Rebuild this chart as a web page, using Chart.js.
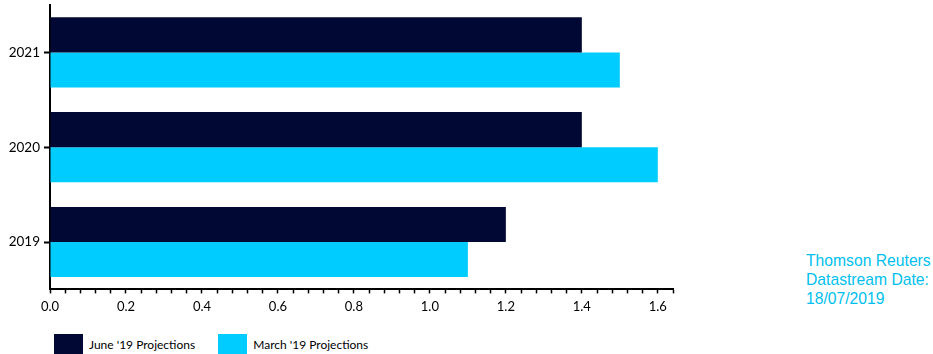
<!DOCTYPE html>
<html>
<head>
<meta charset="utf-8">
<script src="https://cdn.jsdelivr.net/npm/chart.js@4"></script>
<style>
    body { margin: 0; background: #fff; width: 933px; height: 354px; overflow: hidden; position: relative; }
    #chart-box { position: absolute; left: 0; top: 0; width: 680px; height: 321px; }
    #legend { position: absolute; left: 54px; top: 334px; display: flex; font: 12px Lato, sans-serif; color: #000; }
    .legend-item { display: flex; align-items: center; margin-right: 23px; }
    .legend-swatch { width: 29px; height: 20px; margin-right: 6px; }
    #source { position: absolute; left: 806px; top: 251px; white-space: nowrap; font: 15.7px "Liberation Sans", Arial, sans-serif; line-height: 19px; color: #00bff0; }
</style>
</head>
<body>
<div id="chart-box"><canvas id="myChart"></canvas></div>
<div id="legend"></div>
<div id="source">Thomson Reuters<br>Datastream Date:<br>18/07/2019</div>
<script>
'use strict';

const years = ['2021', '2020', '2019'];
const juneProjections = [1.4, 1.4, 1.2];
const marchProjections = [1.5, 1.6, 1.1];
const xTickLabels = ['0.0', '0.2', '0.4', '0.6', '0.8', '1.0', '1.2', '1.4', '1.6'];
const xMax = 1.64;
const minorStep = 0.04;

const navy = '#000833';
const cyan = '#00ccff';

const canvasEl = document.getElementById('myChart');

const chartObj = new Chart(canvasEl, {
    type: 'bar',
    data: {
        labels: years,
        datasets: [{
            label: "June '19 Projections",
            data: juneProjections,
            backgroundColor: navy
        }, {
            label: "March '19 Projections",
            data: marchProjections,
            backgroundColor: cyan
        }]
    },
    options: {
        indexAxis: 'y',
        responsive: true,
        maintainAspectRatio: false,
        animation: false,
        layout: { padding: { top: 5, right: 7, left: 0, bottom: 0 } },
        datasets: {
            bar: { barPercentage: 1, categoryPercentage: 0.74 }
        },
        plugins: {
            legend: { display: false },
            tooltip: { enabled: false }
        },
        scales: {
            x: {
                min: 0,
                max: xMax,
                afterBuildTicks: scale => {
                    // minor ticks every 0.04, labelled every 0.2
                    const count = Math.round(xMax / minorStep);
                    scale.ticks = [];
                    for (let i = 0; i <= count; i++) {
                        scale.ticks.push({ value: Math.round(i * minorStep * 100) / 100 });
                    }
                },
                border: { color: '#000', width: 2 },
                grid: { drawOnChartArea: false, tickLength: 4, tickColor: '#000', tickWidth: 1.5 },
                ticks: {
                    autoSkip: false,
                    maxRotation: 0,
                    padding: 6,
                    color: '#000',
                    font: { family: 'Lato', size: 13 },
                    callback: function (value) {
                        const idx = Math.round(value * 100) / 20;
                        return Number.isInteger(idx) && xTickLabels[idx] ? xTickLabels[idx] : '';
                    }
                }
            },
            y: {
                afterFit: scale => {
                    scale.width = 50;
                    scale.paddingTop = 0;
                    scale.paddingBottom = 0;
                },
                border: { color: '#000', width: 2 },
                grid: { offset: false, drawOnChartArea: false, tickLength: 6, tickColor: '#000', tickWidth: 2 },
                ticks: {
                    padding: 4,
                    color: '#000',
                    font: { family: 'Lato', size: 13.5 }
                }
            }
        }
    }
});

// legend built from the datasets
const legendEl = document.getElementById('legend');
chartObj.data.datasets.forEach(ds => {
    const item = document.createElement('div');
    item.className = 'legend-item';
    const swatch = document.createElement('span');
    swatch.className = 'legend-swatch';
    swatch.style.background = ds.backgroundColor;
    const text = document.createElement('span');
    text.textContent = ds.label;
    item.appendChild(swatch);
    item.appendChild(text);
    legendEl.appendChild(item);
});
</script>
</body>
</html>
